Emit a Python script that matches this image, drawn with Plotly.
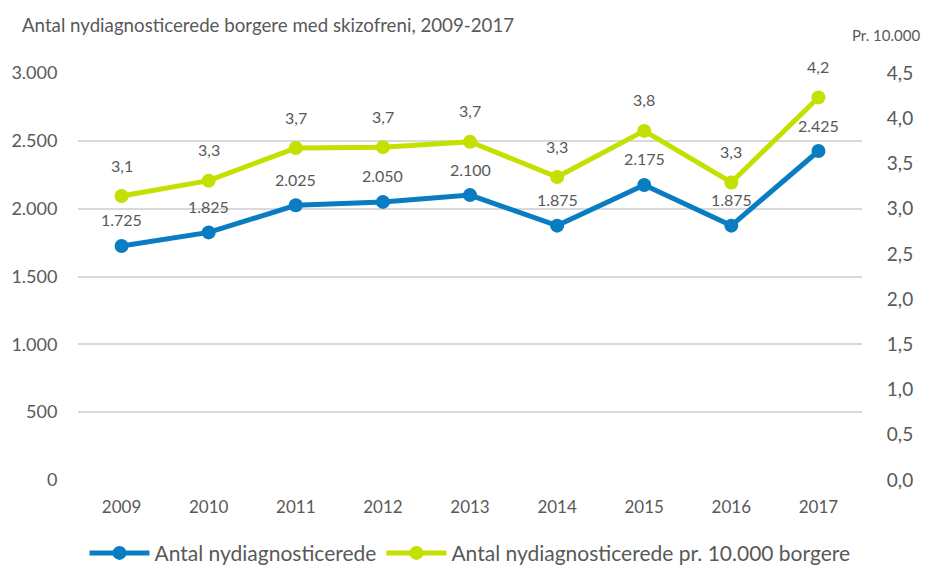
import plotly.graph_objects as go

years = ["2009", "2010", "2011", "2012", "2013", "2014", "2015", "2016", "2017"]
antal = [1725, 1825, 2025, 2050, 2100, 1875, 2175, 1875, 2425]
antal_labels = ["1.725", "1.825", "2.025", "2.050", "2.100", "1.875", "2.175", "1.875", "2.425"]
pr10000 = [3.14, 3.31, 3.67, 3.68, 3.74, 3.35, 3.86, 3.29, 4.23]
pr_labels = ["3,1", "3,3", "3,7", "3,7", "3,7", "3,3", "3,8", "3,3", "4,2"]

blue = "#0a7dc2"
green = "#c3e000"
txt = "#595959"
FONT = "Lato, 'Open Sans', sans-serif"

fig = go.Figure()
fig.add_trace(go.Scatter(x=years, y=antal, mode="lines+markers", name="Antal nydiagnosticerede",
                         line=dict(color=blue, width=5), marker=dict(size=14, color=blue), yaxis="y"))
fig.add_trace(go.Scatter(x=years, y=pr10000, mode="lines+markers", name="Antal nydiagnosticerede pr. 10.000 borgere",
                         line=dict(color=green, width=5), marker=dict(size=14, color=green), yaxis="y2"))

annotations = []
for i, (y, t) in enumerate(zip(antal, antal_labels)):
    annotations.append(dict(x=i, y=y, xref="x", yref="y", text=t, showarrow=False, yshift=26,
                            font=dict(size=16, color=txt, family=FONT)))
for i, (y, t) in enumerate(zip(pr10000, pr_labels)):
    annotations.append(dict(x=i, y=y, xref="x", yref="y2", text=t, showarrow=False, yshift=31,
                            font=dict(size=16, color=txt, family=FONT)))
annotations.append(dict(x=1.0, y=1.0, xref="paper", yref="paper", text="Pr. 10.000", showarrow=False,
                        xanchor="left", yanchor="bottom", xshift=-12, yshift=27,
                        font=dict(size=15, color=txt, family=FONT)))

fig.update_layout(
    width=927, height=569,
    margin=dict(l=78, r=65, t=73, b=89, autoexpand=False),
    paper_bgcolor="white", plot_bgcolor="white",
    separators=",.",
    font=dict(family=FONT, color=txt),
    title=dict(text="Antal nydiagnosticerede borgere med skizofreni, 2009-2017", x=22/927, xanchor="left",
               y=1 - 25/569, yanchor="middle", font=dict(size=18.7, color=txt, family=FONT)),
    xaxis=dict(type="category", range=[-0.5, 8.5], showgrid=False, showline=False, zeroline=False,
               ticks="outside", ticklen=12, tickcolor="rgba(0,0,0,0)", tickfont=dict(size=17, color=txt)),
    yaxis=dict(range=[0, 3000], dtick=500, tickformat=",d", showgrid=True, gridcolor="#d9d9d9", gridwidth=1.5,
               zeroline=False, showline=False, ticks="outside", ticklen=16, tickcolor="rgba(0,0,0,0)",
               tickfont=dict(size=18, color=txt)),
    yaxis2=dict(range=[0, 4.5], dtick=0.5, tickformat=".1f", overlaying="y", side="right", showgrid=False,
                zeroline=False, showline=False, ticks="outside", ticklen=20, tickcolor="rgba(0,0,0,0)",
                tickfont=dict(size=19, color=txt)),
    legend=dict(orientation="h", x=0.5, xanchor="center", y=-0.18, yanchor="middle",
                font=dict(size=21, color=txt), itemwidth=60, tracegroupgap=0),
    annotations=annotations,
    showlegend=True,
)

fig.write_html("out.html")
